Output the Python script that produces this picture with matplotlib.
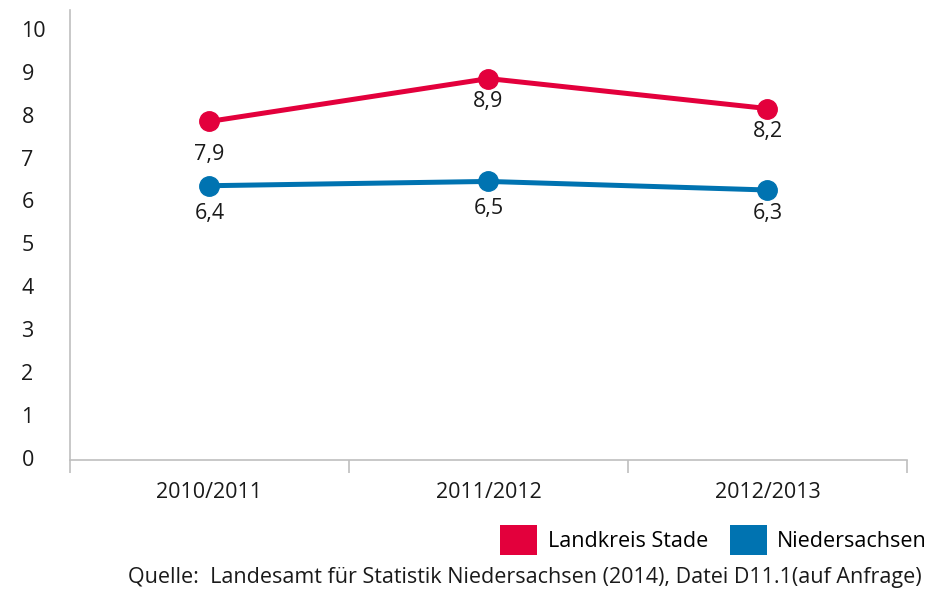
import matplotlib
matplotlib.use("Agg")
import matplotlib.pyplot as plt
from matplotlib.patches import Patch

categories = ["2010/2011", "2011/2012", "2012/2013"]
stade = [7.9, 8.9, 8.2]
nieders = [6.4, 6.5, 6.3]
stade_labels = ["7,9", "8,9", "8,2"]
nieders_labels = ["6,4", "6,5", "6,3"]
yticks = list(range(0, 11))
series_names = ["Landkreis Stade", "Niedersachsen"]
source = "Quelle:  Landesamt für Statistik Niedersachsen (2014), Datei D11.1(auf Anfrage)"

RED = "#E3003C"
BLUE = "#0073B1"
GRAY = "#BFBFBF"
TXT = '#1a1a1a'
FS = 15.5
plt.rcParams['font.family'] = ['Open Sans', 'DejaVu Sans']

fig = plt.figure(figsize=(9.28, 5.91), dpi=100)
ax = fig.add_axes([70/928, 1-460/591, (907-70)/928, 450/591])

x = list(range(len(categories)))
ax.plot(x, stade, color=RED, lw=3.6, marker='o', ms=14, zorder=3, clip_on=False)
ax.plot(x, nieders, color=BLUE, lw=3.6, marker='o', ms=14, zorder=3, clip_on=False)

offs_s = [-33, -23, -23]
offs_n = [-28, -27, -23]
for xi, v, lab, o in zip(x, stade, stade_labels, offs_s):
    ax.annotate(lab, (xi, v), xytext=(0, o*0.72), textcoords='offset points',
                ha='center', va='center', fontsize=FS, color=TXT)
for xi, v, lab, o in zip(x, nieders, nieders_labels, offs_n):
    ax.annotate(lab, (xi, v), xytext=(0, o*0.72), textcoords='offset points',
                ha='center', va='center', fontsize=FS, color=TXT)

ax.set_xlim(-0.5, 2.5)
ax.set_ylim(0, 10.5)
ax.set_yticks(yticks)
ax.set_yticklabels([str(t) for t in yticks], ha='left', fontsize=FS, color=TXT)
ax.tick_params(axis='y', length=0, pad=35)
ax.set_yticks([0], minor=True)
ax.tick_params(axis='y', which='minor', length=9, color=GRAY, width=1.2)
for lbl in ax.get_yticklabels():
    lbl.set_va('center')

ax.set_xticks([-0.5, 0.5, 1.5, 2.5])
ax.set_xticklabels([])
ax.set_xticks(x, minor=True)
ax.set_xticklabels(categories, minor=True, fontsize=FS, color=TXT)
ax.tick_params(axis='x', which='major', length=9, color=GRAY, width=1.2)
ax.tick_params(axis='x', which='minor', length=0, pad=16)

for s in ['top', 'right']:
    ax.spines[s].set_visible(False)
for s in ['left', 'bottom']:
    ax.spines[s].set_color(GRAY)
    ax.spines[s].set_linewidth(1.2)

handles = [Patch(facecolor=RED, edgecolor='none'), Patch(facecolor=BLUE, edgecolor='none')]
fig.legend(handles, series_names, loc='center right', bbox_to_anchor=(0.999, 1-540/591),
           frameon=False, ncol=2, fontsize=FS, handlelength=1.72, handleheight=1.72,
           handletextpad=0.5, columnspacing=1.0, borderaxespad=0, borderpad=0)

fig.text(922/928, 1-578/591, source, ha='right', va='center', fontsize=FS, color=TXT)

fig.savefig("out.png", dpi=100)
